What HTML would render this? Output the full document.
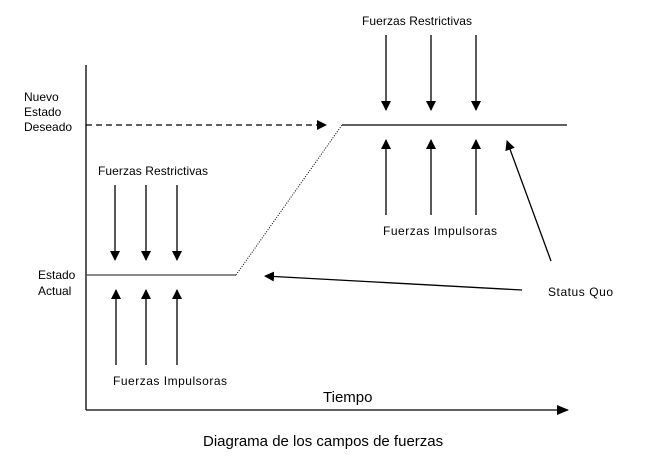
<!DOCTYPE html>
<html><head><style>
html,body{margin:0;padding:0;background:#fff;}
svg text{font-family:"Liberation Sans",Arial,sans-serif;fill:#000;}
</style></head><body>
<svg width="656" height="463" viewBox="0 0 656 463" xmlns="http://www.w3.org/2000/svg">
<defs>
<marker id="a" markerWidth="10" markerHeight="10" refX="9" refY="5" orient="auto" markerUnits="userSpaceOnUse">
<path d="M0,0 L10,5 L0,10 z" fill="#000"/>
</marker>
<marker id="b" markerWidth="12" markerHeight="12" refX="11" refY="6" orient="auto" markerUnits="userSpaceOnUse">
<path d="M0,1 L12,6 L0,11 z" fill="#000"/>
</marker>
</defs>
<g stroke="#000" stroke-width="1.3" fill="none">
<line x1="86" y1="65" x2="86" y2="410"/>
<line x1="86" y1="410" x2="568" y2="410" marker-end="url(#b)"/>
<line x1="86" y1="125" x2="326" y2="125" stroke-dasharray="6,4" marker-end="url(#a)"/>
<line x1="342" y1="125" x2="567" y2="125"/>
<line x1="86" y1="275" x2="236" y2="275" stroke="#444"/>
<line x1="236" y1="275" x2="342" y2="125" stroke-dasharray="1,1.5" stroke-width="1"/>
<line x1="386" y1="35" x2="386" y2="110" marker-end="url(#a)"/>
<line x1="431" y1="35" x2="431" y2="110" marker-end="url(#a)"/>
<line x1="476" y1="35" x2="476" y2="110" marker-end="url(#a)"/>
<line x1="386" y1="215" x2="386" y2="140" marker-end="url(#a)"/>
<line x1="431" y1="215" x2="431" y2="140" marker-end="url(#a)"/>
<line x1="476" y1="215" x2="476" y2="140" marker-end="url(#a)"/>
<line x1="551" y1="261" x2="507" y2="141" marker-end="url(#a)"/>
<line x1="522" y1="290" x2="265" y2="276" marker-end="url(#a)"/>
<line x1="115" y1="185" x2="115" y2="260" marker-end="url(#a)"/>
<line x1="146" y1="185" x2="146" y2="260" marker-end="url(#a)"/>
<line x1="177" y1="185" x2="177" y2="260" marker-end="url(#a)"/>
<line x1="116" y1="365" x2="116" y2="290" marker-end="url(#a)"/>
<line x1="146" y1="365" x2="146" y2="290" marker-end="url(#a)"/>
<line x1="177" y1="365" x2="177" y2="290" marker-end="url(#a)"/>
</g>
<g font-size="12">
<text x="362" y="25" textLength="110" lengthAdjust="spacing">Fuerzas Restrictivas</text>
<text x="98" y="175" textLength="110" lengthAdjust="spacing">Fuerzas Restrictivas</text>
<text x="383" y="235" textLength="114" lengthAdjust="spacing">Fuerzas Impulsoras</text>
<text x="113" y="385" textLength="114" lengthAdjust="spacing">Fuerzas Impulsoras</text>
<text x="548" y="296" textLength="65" lengthAdjust="spacing">Status Quo</text>
<text x="24" y="101">Nuevo</text>
<text x="24" y="116">Estado</text>
<text x="24" y="131">Deseado</text>
<text x="38" y="279">Estado</text>
<text x="38" y="295">Actual</text>
</g>
<text x="323" y="402" font-size="15">Tiempo</text>
<text x="203" y="446" font-size="15">Diagrama de los campos de fuerzas</text>
</svg>
</body></html>
